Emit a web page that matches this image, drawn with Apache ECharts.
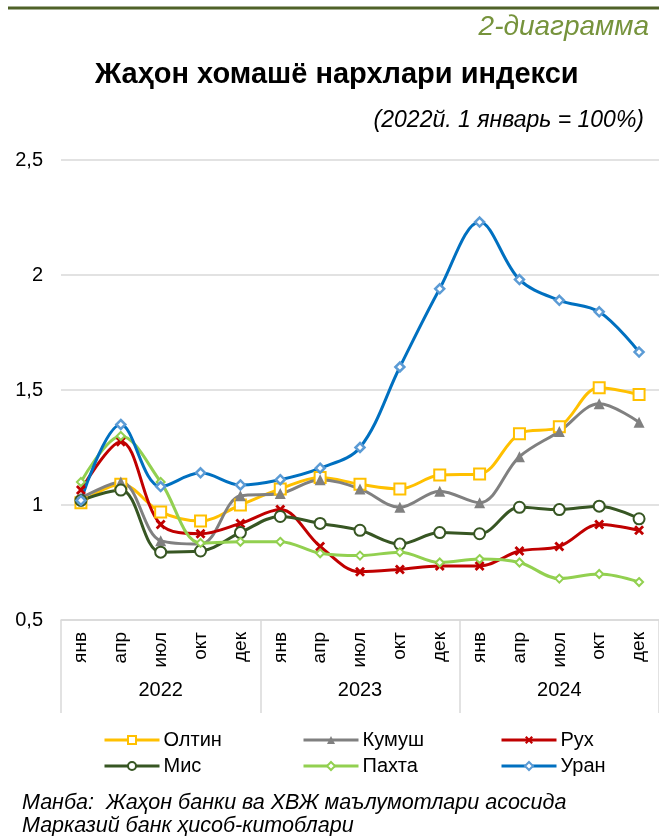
<!DOCTYPE html>
<html>
<head>
<meta charset="utf-8">
<script src="https://cdn.jsdelivr.net/npm/echarts@6/dist/echarts.min.js"></script>
<style>
html,body{margin:0;padding:0;background:#fff;}
#c{width:659px;height:836px;}
</style>
</head>
<body>
<div id="c"></div>
<script>
const months = ['янв','апр','июл','окт','дек','янв','апр','июл','окт','дек','янв','апр','июл','окт','дек'];
const years = ['2022','2023','2024'];
const yTicks = ['0,5','1','1,5','2','2,5'];

const oltin  = [1.01,1.09,0.97,0.93,1.00, 1.07,1.12,1.09,1.07,1.13, 1.135,1.31,1.34,1.51,1.48];
const kumush = [1.03,1.10,0.845,0.83,1.04, 1.05,1.11,1.07,0.99,1.06, 1.01,1.21,1.32,1.44,1.36];
const rukh   = [1.065,1.275,0.915,0.875,0.92, 0.98,0.82,0.71,0.72,0.735, 0.735,0.80,0.82,0.915,0.89];
const mis    = [1.02,1.065,0.795,0.80,0.88, 0.95,0.92,0.89,0.83,0.88, 0.875,0.99,0.98,0.995,0.94];
const pakhta = [1.10,1.30,1.10,0.835,0.84, 0.84,0.79,0.78,0.795,0.75, 0.765,0.75,0.68,0.70,0.665];
const uran   = [1.02,1.35,1.08,1.14,1.087, 1.11,1.16,1.25,1.60,1.94, 2.23,1.98,1.89,1.84,1.665];

const names = ['Олтин','Кумуш','Рух','Мис','Пахта','Уран'];

const FONT = 'Liberation Sans, Arial, sans-serif';
const xPath = 'path://M0,2 L2,0 L5,3 L8,0 L10,2 L7,5 L10,8 L8,10 L5,7 L2,10 L0,8 L3,5 Z';

function mk(name, data, color, symbol, size, itemStyle) {
  return {
    name: name, type: 'line', data: data, smooth: 0.35,
    xAxisIndex: 0, yAxisIndex: 0,
    symbol: symbol, symbolSize: size, showSymbol: true,
    lineStyle: {color: color, width: 3},
    itemStyle: itemStyle,
    emphasis: {disabled: true},
    z: 2
  };
}

const series = [
  mk(names[0], oltin, '#FFC000', 'rect', 11, {color:'#fff', borderColor:'#FFC000', borderWidth:2}),
  mk(names[1], kumush, '#808080', 'triangle', 11, {color:'#808080', borderColor:'#808080', borderWidth:0}),
  mk(names[2], rukh, '#C00000', xPath, 10, {color:'#C00000', borderWidth:0}),
  mk(names[3], mis, '#375623', 'circle', 11, {color:'#fff', borderColor:'#375623', borderWidth:2}),
  mk(names[4], pakhta, '#92D050', 'diamond', 8, {color:'#fff', borderColor:'#92D050', borderWidth:2}),
  mk(names[5], uran, '#0070C0', 'diamond', 9, {color:'#fff', borderColor:'#5B9BD5', borderWidth:2.5})
];

const legendPos = [[103,730],[302,730],[500,730],[103,756],[302,756],[500,756]];
const legends = names.map((n,i)=>({
  data:[n], left: legendPos[i][0], top: legendPos[i][1],
  itemWidth: 55, itemHeight: 10, itemGap: 0, padding: 0,
  selectedMode: false,
  lineStyle: {width: 3},
  textStyle: {fontFamily: FONT, fontSize: 20, color:'#000', padding:[0,0,0,-1]}
}));

const chart = echarts.init(document.getElementById('c'), null, {renderer:'canvas'});
chart.setOption({
  animation: false,
  backgroundColor: '#fff',
  textStyle: {fontFamily: FONT},
  graphic: [
    {type:'line', shape:{x1:8,y1:8,x2:659,y2:8}, style:{stroke:'#4F6228', lineWidth:3}},
    {type:'text', right: 10, top: 13, style:{text:'2-диаграмма', font:'italic 28px '+FONT, fill:'#76933C'}},
    {type:'text', left: 95, top: 60, style:{text:'Жаҳон хомашё нархлари индекси', font:'bold 29px '+FONT, fill:'#000'}},
    {type:'text', right: 15, top: 109, style:{text:'(2022й. 1 январь = 100%)', font:'italic 23px '+FONT, fill:'#000'}},
    {type:'text', left: 22, top: 792, style:{text:'Манба:  Жаҳон банки ва ХВЖ маълумотлари асосида', font:'italic 21.5px '+FONT, fill:'#000'}},
    {type:'text', left: 22, top: 815, style:{text:'Марказий банк ҳисоб-китоблари', font:'italic 21.5px '+FONT, fill:'#000'}}
  ],
  legend: legends,
  grid: {left: 61, right: 0, top: 160, bottom: 216, containLabel: false},
  xAxis: [
    {
      type:'category', data: months, boundaryGap: true, position:'bottom',
      axisLine:{show:true, lineStyle:{color:'#d9d9d9', width:1.5}},
      axisTick:{show:false},
      axisLabel:{rotate:90, fontSize:19, color:'#000', fontFamily:FONT, margin:12, interval:0},
      splitLine:{show:false}
    },
    {
      type:'category', data: years, boundaryGap: true, position:'bottom',
      axisLine:{show:false},
      axisTick:{show:true, length:93, interval:0, lineStyle:{color:'#d9d9d9', width:1.5}},
      axisLabel:{fontSize:20, color:'#000', fontFamily:FONT, margin:60, interval:0},
      splitLine:{show:false}
    }
  ],
  yAxis: {
    type:'value', min:0.5, max:2.5, interval:0.5,
    axisLine:{show:false}, axisTick:{show:false},
    axisLabel:{fontSize:20, color:'#000', fontFamily:FONT, margin:18,
      formatter: function(v){ const i = Math.round((v-0.5)/0.5); return yTicks[i]; }},
    splitLine:{lineStyle:{color:'#d9d9d9', width:1.5}}
  },
  series: series
});
</script>
</body>
</html>
